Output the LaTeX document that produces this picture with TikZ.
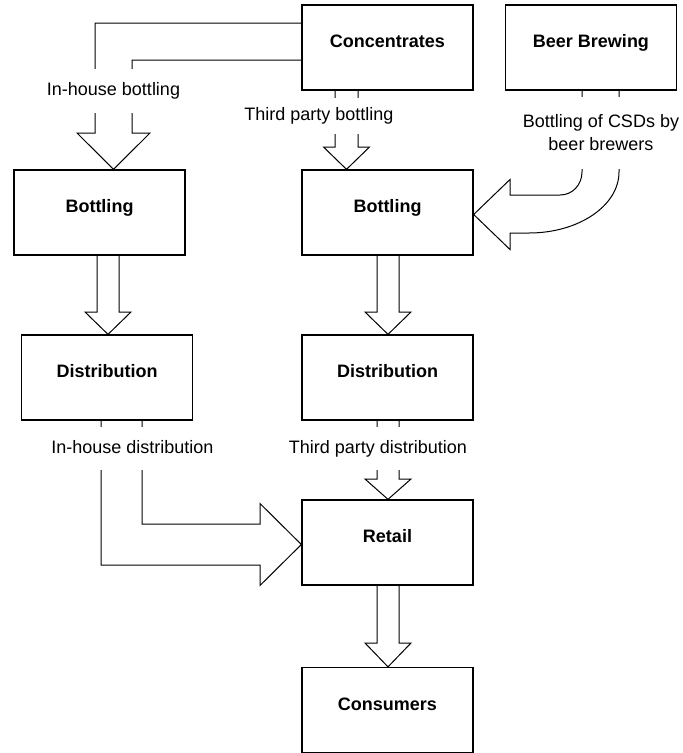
\documentclass[tikz,border=0pt]{standalone}
\usepackage{fontspec}
\setmainfont{Liberation Sans}

\begin{document}
\begin{tikzpicture}[x=1pt,y=-1pt]
    \tikzstyle box=[draw,line width=1.3pt,minimum width=171pt,minimum height=85pt,inner sep=0pt,text height=8pt,text depth=8pt,font=\fontsize{18}{22}\selectfont\bfseries]
    \tikzstyle blockarrow=[draw,line width=1pt,line join=miter]
    \tikzstyle flowlabel=[fill=white,inner xsep=1pt,inner ysep=0pt,text height=13pt,text depth=4pt,font=\fontsize{18}{23}\selectfont]
    \useasboundingbox (0,0) rectangle (683,753);
    \node[box] (conc) at (387.5,47.5) {Concentrates};
    \node[box] (beer) at (591,47.5) {Beer Brewing};
    \node[box] (bottleA) at (99.5,212.5) {Bottling};
    \node[box] (bottleB) at (387.5,212.5) {Bottling};
    \node[box] (distA) at (107,377.5) {Distribution};
    \node[box] (distB) at (387.5,377.5) {Distribution};
    \node[box] (retail) at (387.5,542.5) {Retail};
    \node[box] (cons) at (387.5,710) {Consumers};
    \draw[blockarrow] (conc.west |- 0,23) -- (95,23) -- (95,133) -- (77,133) -- (113.5,0 |- bottleA.north)
      -- (150,133) -- (132,133) -- (132,60) -- (conc.west |- 0,60);
    \draw[blockarrow] (335,0 |- conc.south) -- (335,147) -- (323.5,147) -- (346.5,0 |- bottleB.north)
      -- (369.5,147) -- (358,147) -- (358,0 |- conc.south);
    \draw[blockarrow] (582,0 |- beer.south) -- (582,172) .. controls (582,184.7) and (572.5,195) .. (560,195)
      -- (510,195) -- (510,179.5) -- (bottleB.east |- 0,214.5) -- (510,249.5) -- (510,233) -- (529,233)
      .. controls (578.7,233) and (619,205.7) .. (619,172) -- (619,0 |- beer.south);
    \draw[blockarrow] (97,0 |- bottleA.south) -- (97,312) -- (85,312) -- (108,0 |- distA.north)
      -- (131,312) -- (119,312) -- (119,0 |- bottleA.south);
    \draw[blockarrow] (377,0 |- bottleB.south) -- (377,312) -- (365,312) -- (388,0 |- distB.north)
      -- (411,312) -- (399,312) -- (399,0 |- bottleB.south);
    \draw[blockarrow] (377,0 |- distB.south) -- (377,479) -- (365,479) -- (388,0 |- retail.north)
      -- (411,479) -- (399,479) -- (399,0 |- distB.south);
    \draw[blockarrow] (101,0 |- distA.south) -- (101,565) -- (260,565) -- (260,585.5) -- (retail.west |- 0,544.5)
      -- (260,503.5) -- (260,524) -- (142,524) -- (142,0 |- distA.south);
    \draw[blockarrow] (377,0 |- retail.south) -- (377,643) -- (365,643) -- (388,0 |- cons.north)
      -- (411,643) -- (399,643) -- (399,0 |- retail.south);
    \node[flowlabel,minimum height=44pt] (inbottle) at (113.5,91) {In-house bottling};
    \node[flowlabel,minimum height=36pt] (thirdbottle) at (319,116) {Third party bottling};
    \node[flowlabel,text height={},text depth={},align=center,minimum height=72pt] (brewbottle) at (601,132.5) {Bottling of CSDs by\\beer brewers};
    \node[flowlabel,minimum height=43pt] (indist) at (132.5,448.5) {In-house distribution};
    \node[flowlabel,minimum height=43pt] (thirddist) at (378,448.5) {Third party distribution};
\end{tikzpicture}
\end{document}
